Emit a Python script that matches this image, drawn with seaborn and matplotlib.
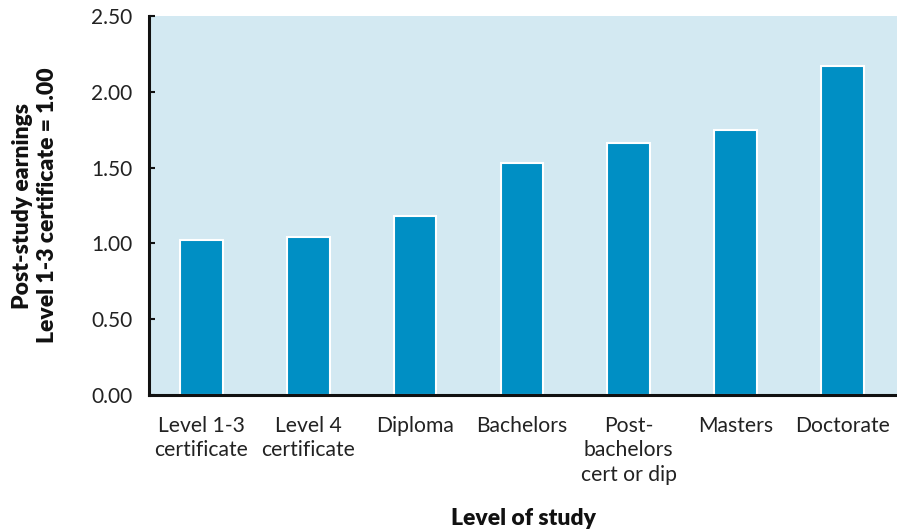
import matplotlib
matplotlib.use("Agg")
import matplotlib.pyplot as plt
import seaborn as sns
import pandas as pd

categories = ["Level 1-3\ncertificate", "Level 4\ncertificate", "Diploma", "Bachelors",
              "Post-\nbachelors\ncert or dip", "Masters", "Doctorate"]
values = [1.02, 1.04, 1.18, 1.53, 1.66, 1.75, 2.17]
yticks = [0.0, 0.5, 1.0, 1.5, 2.0, 2.5]
ytick_labels = ["0.00", "0.50", "1.00", "1.50", "2.00", "2.50"]

df = pd.DataFrame({"level": categories, "earnings": values})

sns.set_theme(style="white")
plt.rcParams["font.family"] = ["Lato", "DejaVu Sans"]

fig = plt.figure(figsize=(8.97, 5.29), dpi=100)
ax = fig.add_axes([0.166, 0.253, 0.834, 0.717])
ax.set_facecolor("#D3E9F2")

sns.barplot(data=df, x="level", y="earnings", color="#008FC4", saturation=1,
            width=0.40, edgecolor="white", linewidth=1.5, ax=ax)

ax.set_ylim(0, 2.5)
ax.set_xlim(-0.49, 6.51)
ax.set_yticks(yticks)
ax.set_yticklabels(ytick_labels)
ax.tick_params(axis="y", direction="in", length=4, width=1.5, color="#111111",
               labelsize=15, pad=12, left=True, labelcolor="#222222")
ax.tick_params(axis="x", length=0, labelsize=15.2, pad=15, labelcolor="#222222")
for lab in ax.get_xticklabels():
    lab.set_linespacing(1.27)
    lab.set_verticalalignment("top")

for side in ["top", "right"]:
    ax.spines[side].set_visible(False)
for side in ["left", "bottom"]:
    ax.spines[side].set_color("#111111")
    ax.spines[side].set_linewidth(2.2)

ax.set_xlabel("Level of study", fontsize=16.5, fontweight="heavy", color="#111111",
              va="center")
ax.xaxis.set_label_coords(0.5, -0.326)
ax.set_ylabel("Post-study earnings\nLevel 1-3 certificate = 1.00", fontsize=16.5,
              fontweight="heavy", labelpad=24, color="#111111", linespacing=1.2)

fig.savefig("out.png", dpi=100)
